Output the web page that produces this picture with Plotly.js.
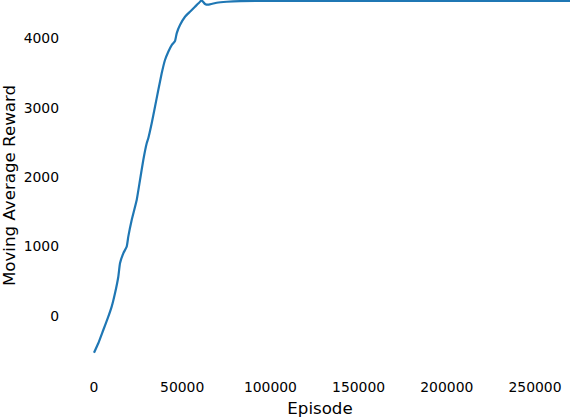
<!DOCTYPE html>
<html>
<head>
<meta charset="utf-8">
<script src="https://cdn.plot.ly/plotly-3.0.1.min.js"></script>
<style>
  html, body { margin: 0; padding: 0; background: #fff; }
  #chart { width: 570px; height: 418px; }
</style>
</head>
<body>
<div id="chart"></div>
<script>
const episodes = [0, 2440, 5270, 8110, 10030, 11900, 13780, 14740, 16610, 18540, 19440, 21370, 24210, 26080, 27950, 29880, 30780, 32710, 34580, 36450, 38380, 40250, 42120, 44050, 45920, 46880, 48750, 51590, 54420, 57260, 60090, 61050, 62930, 64800, 69560, 75230, 82770, 100000, 150000, 200000, 250000, 270000];
const rewards = [-530, -393, -202, -10, 134, 327, 566, 759, 903, 999, 1143, 1383, 1672, 1960, 2248, 2489, 2561, 2777, 3016, 3257, 3497, 3689, 3809, 3905, 3963, 4074, 4193, 4313, 4385, 4457, 4529, 4550, 4496, 4486, 4515, 4529, 4538, 4540, 4540, 4540, 4540, 4540];
const xTickVals = [0, 50000, 100000, 150000, 200000, 250000];
const xTickText = ["0", "50000", "100000", "150000", "200000", "250000"];
const yTickVals = [0, 1000, 2000, 3000, 4000];
const yTickText = ["0", "1000", "2000", "3000", "4000"];

const trace = {
  x: episodes,
  y: rewards,
  type: 'scatter',
  mode: 'lines',
  line: { color: '#1f77b4', width: 2.2, shape: 'spline', smoothing: 0.4 },
  hoverinfo: 'skip'
};

const font = { family: 'DejaVu Sans, sans-serif', color: '#000' };

const layout = {
  width: 570,
  height: 418,
  margin: { l: 70, r: 0, t: 0, b: 47, pad: 0 },
  paper_bgcolor: '#fff',
  plot_bgcolor: '#fff',
  showlegend: false,
  font: font,
  xaxis: {
    range: [-13606, 269841],
    tickvals: xTickVals,
    ticktext: xTickText,
    showgrid: false, zeroline: false, showline: false,
    ticks: '',
    ticklabelstandoff: 6,
    tickfont: { family: 'DejaVu Sans', size: 13.9, color: '#000' },
    title: { text: 'Episode', font: { family: 'DejaVu Sans', size: 16.67, color: '#000' }, standoff: 8 }
  },
  yaxis: {
    range: [-793, 4554],
    tickvals: yTickVals,
    ticktext: yTickText,
    showgrid: false, zeroline: false, showline: false,
    ticks: '',
    ticklabelstandoff: 10,
    tickfont: { family: 'DejaVu Sans', size: 13.9, color: '#000' },
    title: { text: 'Moving Average Reward', font: { family: 'DejaVu Sans', size: 16.67, color: '#000' }, standoff: 8 }
  }
};

Plotly.newPlot('chart', [trace], layout, { staticPlot: true, displayModeBar: false });
</script>
</body>
</html>
